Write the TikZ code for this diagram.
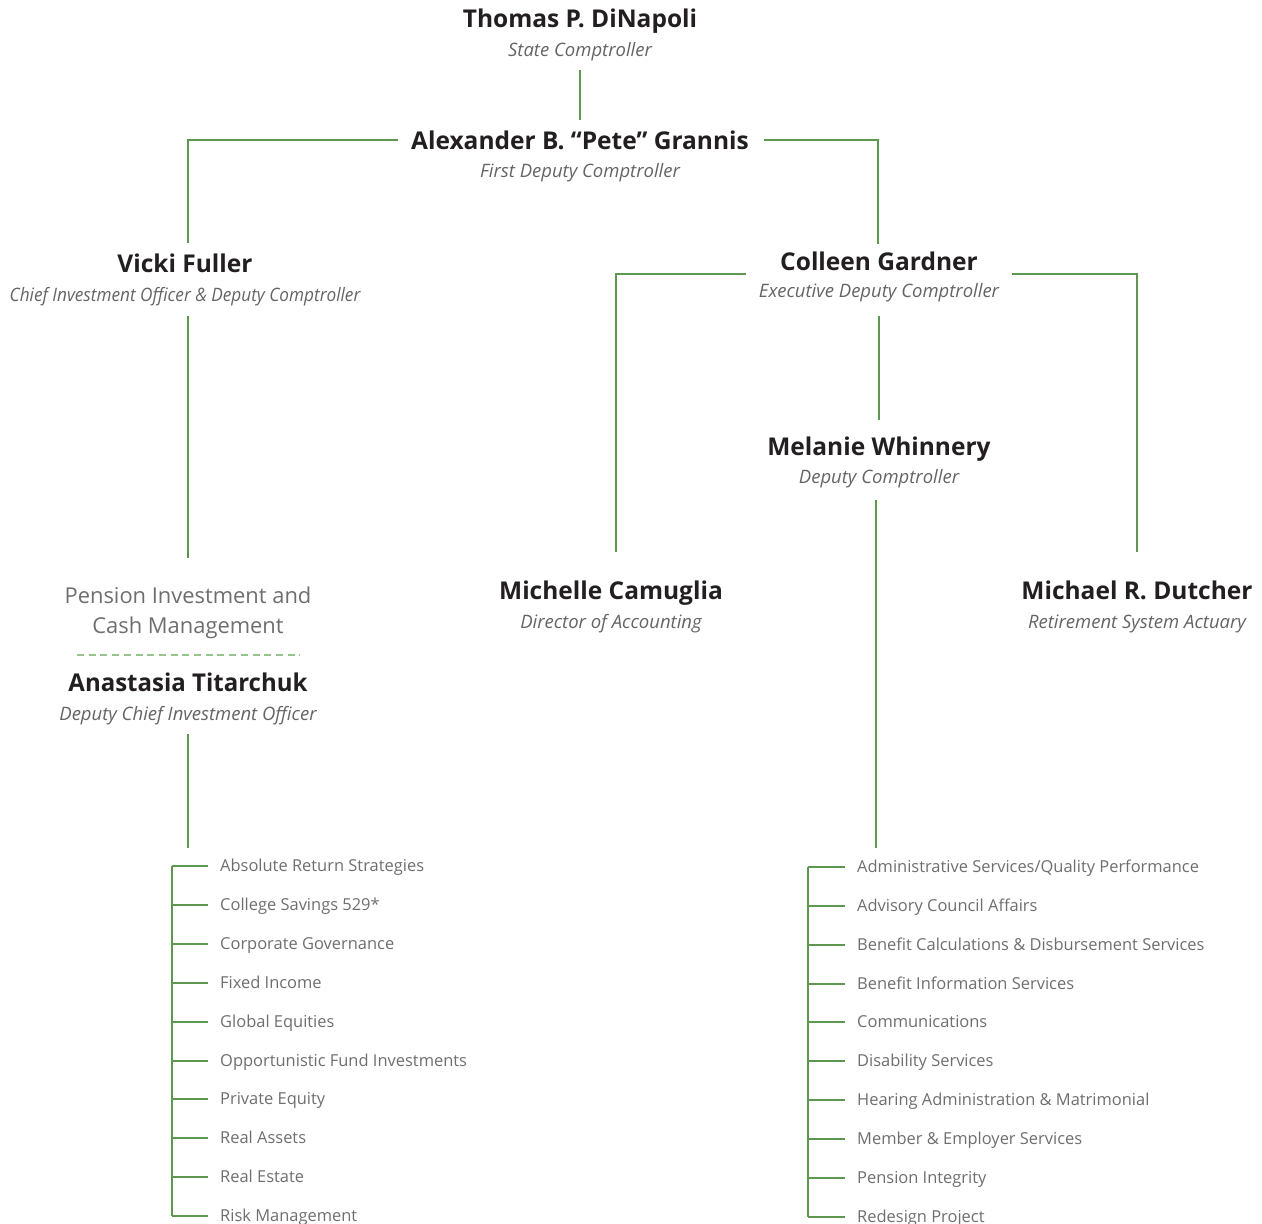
\documentclass[tikz,border=0pt]{standalone}
\usepackage{fontspec}
\setmainfont{Open Sans}
\begin{document}
\begin{tikzpicture}[x=1pt,y=-1pt,
  every node/.style={inner sep=0pt,anchor=base},
  pname/.style={font=\fontsize{24.5}{28}\selectfont\bfseries,text=namec},
  ptitle/.style={font=\fontsize{18.5}{22}\selectfont\itshape,text=titlec},
  dept/.style={font=\fontsize{21.9}{30}\selectfont,text=listc,align=center},
  litem/.style={font=\fontsize{16.45}{19}\selectfont,text=listc,anchor=base west},
  conn/.style={draw=lnc,line width=1.6pt},
  dashconn/.style={draw=dashc,line width=1.4pt,dash pattern=on 7pt off 4.7pt}]
\definecolor{lnc}{RGB}{94,152,80}
\definecolor{dashc}{RGB}{150,195,140}
\definecolor{namec}{RGB}{35,31,32}
\definecolor{titlec}{RGB}{100,100,102}
\definecolor{listc}{RGB}{110,110,112}
\useasboundingbox (0,0) rectangle (1262,1224);

% people
\node[pname] (thomas) at (580,27.5) {Thomas P. DiNapoli};
\node[ptitle] (thomasT) at (580,56) {State Comptroller};
\node[pname] (grannis) at (580,149) {Alexander B. “Pete” Grannis};
\node[ptitle] (grannisT) at (580,177.5) {First Deputy Comptroller};
\node[pname] (vicki) at (185,272) {Vicki Fuller};
\node[ptitle] (vickiT) at (185,301) {\scalebox{0.93}[1]{Chief Investment Officer \& Deputy Comptroller}};
\node[pname] (colleen) at (879,270) {Colleen Gardner};
\node[ptitle] (colleenT) at (879,297) {Executive Deputy Comptroller};
\node[pname] (melanie) at (879,455) {Melanie Whinnery};
\node[ptitle] (melanieT) at (879,483.5) {Deputy Comptroller};
\node[pname] (michelle) at (611,599) {Michelle Camuglia};
\node[ptitle] (michelleT) at (611,628) {Director of Accounting};
\node[pname] (dutcher) at (1137,599) {Michael R. Dutcher};
\node[ptitle] (dutcherT) at (1137,628) {Retirement System Actuary};
\node[dept] (pension) at (188,603) {Pension Investment and};
\node[dept] (pension2) at (188,633) {Cash Management};
\node[pname] (anastasia) at (188,691) {\scalebox{0.98}[1]{Anastasia Titarchuk}};
\node[ptitle] (anastasiaT) at (188,720) {Deputy Chief Investment Officer};

% junction coordinates
\coordinate (t1) at (580,70);
\coordinate (t2) at (580,120);
\coordinate (gL) at (398,140);
\coordinate (gLc) at (188,140);
\coordinate (vTop) at (188,243);
\coordinate (gR) at (764,140);
\coordinate (gRc) at (878,140);
\coordinate (cTop) at (878,244);
\coordinate (vBot) at (188,316);
\coordinate (pTop) at (188,558);
\coordinate (dashL) at (77,655);
\coordinate (dashR) at (300,655);
\coordinate (aBot) at (188,734);
\coordinate (aEnd) at (188,848);
\coordinate (cL) at (746,274);
\coordinate (cLc) at (616,274);
\coordinate (miTop) at (616,552);
\coordinate (cR) at (1012,274);
\coordinate (cRc) at (1137,274);
\coordinate (duTop) at (1137,552);
\coordinate (cBot) at (879,316);
\coordinate (meTop) at (879,420);
\coordinate (meBot) at (876,500);
\coordinate (meEnd) at (876,848);

\draw[conn] (t1) -- (t2);
\draw[conn] (gL) -- (gLc) -- (vTop);
\draw[conn] (gR) -- (gRc) -- (cTop);
\draw[conn] (vBot) -- (pTop);
\draw[dashconn] (dashL) -- (dashR);
\draw[conn] (aBot) -- (aEnd);
\draw[conn] (cL) -- (cLc) -- (miTop);
\draw[conn] (cR) -- (cRc) -- (duTop);
\draw[conn] (cBot) -- (meTop);
\draw[conn] (meBot) -- (meEnd);

% left list
\foreach \i/\y/\t in {1/866/{Absolute Return Strategies},2/905/{College Savings 529*},3/944/{Corporate Governance},4/983/{Fixed Income},5/1022/{Global Equities},6/1061/{Opportunistic Fund Investments},7/1099/{Private Equity},8/1138/{Real Assets},9/1177/{Real Estate},10/1216/{Risk Management}}{
  \node[litem] (L\i) at (220,\y+5) {\t};
  \coordinate (Lb\i) at (208,\y);
  \coordinate (Lv\i) at (172,\y);
  \draw[conn] (Lv\i) -- (Lb\i);
}
\draw[conn] (Lv1) -- (Lv10);

% right list
\foreach \i/\y/\t in {1/867/{Administrative Services/Quality Performance},2/906/{Advisory Council Affairs},3/945/{Benefit Calculations \& Disbursement Services},4/984/{Benefit Information Services},5/1022/{Communications},6/1061/{Disability Services},7/1100/{Hearing Administration \& Matrimonial},8/1139/{Member \& Employer Services},9/1178/{Pension Integrity},10/1217/{Redesign Project}}{
  \node[litem] (R\i) at (857,\y+5) {\t};
  \coordinate (Rb\i) at (845,\y);
  \coordinate (Rv\i) at (808,\y);
  \draw[conn] (Rv\i) -- (Rb\i);
}
\draw[conn] (Rv1) -- (Rv10);
\end{tikzpicture}
\end{document}
